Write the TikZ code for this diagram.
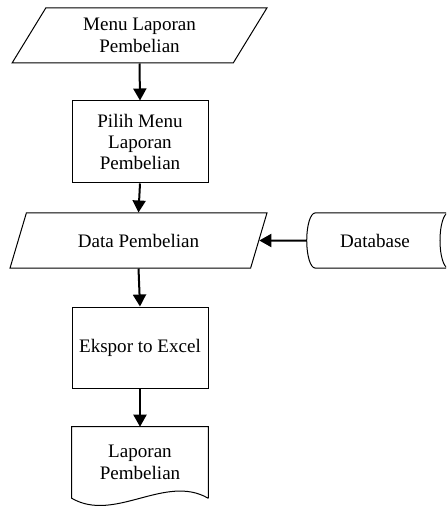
\documentclass[tikz,border=0pt]{standalone}
\usepackage{fontspec}
\setmainfont{Liberation Serif}
\usetikzlibrary{arrows.meta,shapes.geometric}

\tikzset{
	flowline/.style={line width=1.5pt, -{Triangle[width=9.75pt,length=9pt]}},
	iobox/.style={draw, line width=0.75pt, trapezium, trapezium stretches=true, align=center, minimum height=41.25pt},
	procbox/.style={draw, line width=0.75pt, rectangle, align=center, minimum width=102pt, minimum height=61.5pt},
	dbbox/.style={draw, line width=0.75pt, cylinder, aspect=0.75, minimum width=41.25pt, minimum height=112.5pt},
}

\begin{document}
\begin{tikzpicture}[x=0.75pt, y=-0.75pt, font=\fontsize{14.3}{16}\selectfont]
	\clip (0,0) rectangle (446,509);
	\node [iobox, trapezium left angle=63, trapezium right angle=117, minimum width=191.25pt] (menu) at (139.5,35.5) {Menu Laporan\\Pembelian};
	\node [procbox] (pilih) at (140,142) {Pilih Menu\\Laporan\\Pembelian};
	\node [iobox, trapezium left angle=67, trapezium right angle=113, minimum width=192.75pt] (data) at (138.5,240.5) {Data Pembelian};
	\node [dbbox] (dbase) at (375,240.5) {Database};
	\node [procbox, minimum height=60.75pt] (ekspor) at (140,347.5) {Ekspor to Excel};
	\node [minimum width=102pt, minimum height=53.25pt, align=center] (laporan) at (140,462.5) {Laporan\\Pembelian};
	\draw [line width=0.75pt] (laporan.south east) -- (laporan.north east) -- (laporan.north west) -- (laporan.south west)
		.. controls ++(43,25) and ++(-43,-25) .. (laporan.south east);
	\draw [flowline] (menu.south) -- (pilih.north);
	\draw [flowline] (pilih.south) -- (data.north);
	\draw [flowline] (dbase.west) -- (data.east);
	\draw [flowline] (data.south) -- (ekspor.north);
	\draw [flowline] (ekspor.south) -- (laporan.north);
\end{tikzpicture}
\end{document}
